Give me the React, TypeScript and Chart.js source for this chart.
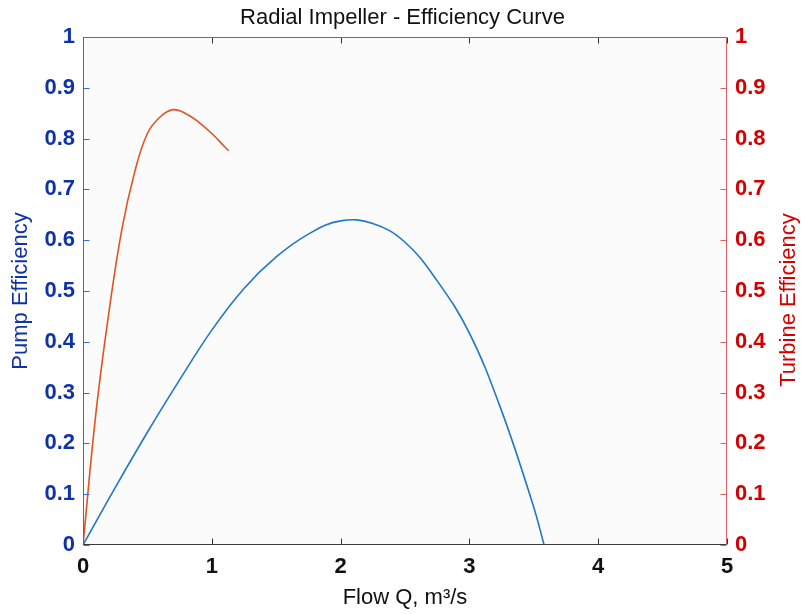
import React, { useEffect, useRef } from "react";
import { Chart, registerables } from "chart.js";

Chart.register(...registerables);

const chartTitle = "Radial Impeller - Efficiency Curve";
const xTitle = "Flow Q, m³/s";
const leftTitle = "Pump Efficiency";
const rightTitle = "Turbine Efficiency";

const xTicks = [0, 1, 2, 3, 4, 5];
const yTicks = [0, 0.1, 0.2, 0.3, 0.4, 0.5, 0.6, 0.7, 0.8, 0.9, 1];

const pumpQ = [0, 0.25, 0.5, 0.75, 1.0, 1.25, 1.5, 1.75, 2.0, 2.25, 2.5, 2.75, 3.0, 3.25, 3.5, 3.58];
const pumpEff = [0, 0.113, 0.222, 0.325, 0.423, 0.505, 0.567, 0.612, 0.638, 0.633, 0.596, 0.52, 0.417, 0.264, 0.074, 0];

const turbineQ = [0, 0.1, 0.2, 0.3, 0.4, 0.5, 0.6, 0.7, 0.8, 0.9, 1.0, 1.1, 1.13];
const turbineEff = [0, 0.259, 0.456, 0.619, 0.733, 0.81, 0.843, 0.857, 0.849, 0.832, 0.81, 0.784, 0.776];

const FONT = "'Liberation Sans', Arial, Helvetica, sans-serif";
const LEFT_TEXT = "#0f32a6";
const RIGHT_TEXT = "#d40000";
const LEFT_AXIS = "#3d68d2";
const RIGHT_AXIS = "#e06060";

const framePlugin = {
  id: "frame",
  beforeDraw(chart: any) {
    const { ctx, chartArea } = chart;
    ctx.save();
    ctx.fillStyle = "#ffffff";
    ctx.fillRect(0, 0, chart.width, chart.height);
    ctx.fillStyle = "#fbfbfb";
    ctx.fillRect(chartArea.left, chartArea.top, chartArea.right - chartArea.left, chartArea.bottom - chartArea.top);
    ctx.restore();
  },
  afterDatasetsDraw(chart: any) {
    const { ctx, chartArea, scales } = chart;
    const L = Math.round(chartArea.left) + 0.5;
    const R = Math.round(chartArea.right) - 0.5;
    const T = Math.round(chartArea.top) + 0.5;
    const B = Math.round(chartArea.bottom) - 0.5;
    const line = (x1: number, y1: number, x2: number, y2: number, c: string) => {
      ctx.strokeStyle = c;
      ctx.beginPath();
      ctx.moveTo(x1, y1);
      ctx.lineTo(x2, y2);
      ctx.stroke();
    };
    ctx.save();
    ctx.lineWidth = 1;
    const tl = 6;
    xTicks.forEach((v) => {
      const x = Math.round(scales.x.getPixelForValue(v)) + 0.5;
      line(x, B, x, B - tl, "#333333");
      line(x, T, x, T + tl, "#333333");
    });
    yTicks.forEach((v) => {
      const y = Math.round(scales.y.getPixelForValue(v)) + 0.5;
      line(L, y, L + tl, y, LEFT_AXIS);
      const y2 = Math.round(scales.y2.getPixelForValue(v)) + 0.5;
      line(R, y2, R - tl, y2, RIGHT_AXIS);
    });
    line(L, T, R, T, "#6e6e6e");
    line(L, B, R, B, "#3a3a3a");
    line(L, T, L, B, LEFT_AXIS);
    line(R, T, R, B, RIGHT_AXIS);

    ctx.fillStyle = RIGHT_TEXT;
    ctx.font = `22px ${FONT}`;
    ctx.textAlign = "center";
    ctx.textBaseline = "middle";
    ctx.translate(789, (chartArea.top + chartArea.bottom) / 2 + 9);
    ctx.rotate(-Math.PI / 2);
    ctx.fillText(rightTitle, 0, 0);
    ctx.restore();
  },
};

export default function App() {
  const ref = useRef<HTMLCanvasElement | null>(null);
  useEffect(() => {
    if (!ref.current) return;
    const chart = new Chart(ref.current, {
      type: "line",
      data: {
        datasets: [
          {
            label: leftTitle,
            data: pumpQ.map((q, i) => ({ x: q, y: pumpEff[i] })),
            borderColor: "#1f77c8",
            borderWidth: 1.6,
            pointRadius: 0,
            tension: 0.4,
            yAxisID: "y",
            fill: false,
          },
          {
            label: rightTitle,
            data: turbineQ.map((q, i) => ({ x: q, y: turbineEff[i] })),
            borderColor: "#e0541f",
            borderWidth: 1.6,
            pointRadius: 0,
            tension: 0.4,
            yAxisID: "y2",
            fill: false,
          },
        ],
      },
      options: {
        animation: false,
        responsive: false,
        devicePixelRatio: 1,
        layout: { padding: 0 },
        plugins: {
          legend: { display: false },
          tooltip: { enabled: false },
          title: {
            display: true,
            text: chartTitle,
            color: "#111111",
            font: { family: FONT, size: 22, weight: "normal", lineHeight: 1.1 },
            padding: { top: 6, bottom: 6.8 },
          },
        },
        scales: {
          x: {
            type: "linear",
            position: "bottom",
            min: 0,
            max: 5,
            grid: { display: false, drawTicks: false },
            border: { display: false },
            ticks: {
              stepSize: 1,
              padding: 9,
              color: "#111111",
              font: { family: FONT, size: 22, weight: "bold" },
              callback: (v: any) => String(v),
            },
            title: {
              display: true,
              text: xTitle,
              color: "#111111",
              font: { family: FONT, size: 22 },
              padding: { top: 0, bottom: 3 },
            },
            afterFit: (s: any) => {
              s.height = 69;
            },
          },
          y: {
            type: "linear",
            position: "left",
            min: 0,
            max: 1,
            grid: { display: false, drawTicks: false },
            border: { display: false },
            ticks: {
              stepSize: 0.1,
              padding: 8,
              color: LEFT_TEXT,
              font: { family: FONT, size: 22, weight: "bold" },
              callback: (v: any) => String(Math.round(v * 10) / 10),
            },
            title: {
              display: true,
              text: leftTitle,
              color: LEFT_TEXT,
              font: { family: FONT, size: 22 },
              padding: { top: 8, bottom: 0 },
            },
            afterFit: (s: any) => {
              s.width = 83;
            },
          },
          y2: {
            type: "linear",
            position: "right",
            min: 0,
            max: 1,
            grid: { display: false, drawTicks: false },
            border: { display: false },
            ticks: {
              stepSize: 0.1,
              padding: 8,
              color: RIGHT_TEXT,
              font: { family: FONT, size: 22, weight: "bold" },
              callback: (v: any) => String(Math.round(v * 10) / 10),
            },
            afterFit: (s: any) => {
              s.width = 78;
            },
          },
        },
      },
      plugins: [framePlugin],
    });
    return () => chart.destroy();
  }, []);
  return (
    <div style={{ position: "fixed", left: 0, top: 0, width: 805, height: 614, background: "#ffffff" }}>
      <canvas ref={ref} width={805} height={614} />
    </div>
  );
}
